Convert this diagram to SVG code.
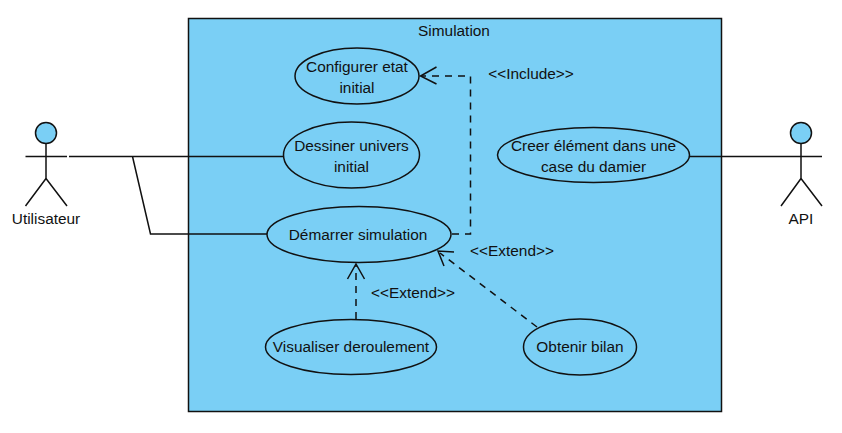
<svg xmlns="http://www.w3.org/2000/svg" width="842" height="433" viewBox="0 0 842 433">
<style>
text{font-family:"Liberation Sans",Arial,sans-serif;font-size:15.400px;fill:#111;text-anchor:middle}
.n{fill:#7acff5;stroke:#111;stroke-width:1.5}
.l{fill:none;stroke:#111;stroke-width:1.5}
.d{fill:none;stroke:#111;stroke-width:1.5;stroke-dasharray:7 6}
</style>
<rect width="842" height="433" fill="#fff"/>
<g id="simulation"><rect class="n" x="188.500" y="18.500" width="533" height="393"/><text x="454" y="36">Simulation</text></g>
<g id="connectors">
<path class="l" d="M69 156.500H285M132.500 156.500L150.500 234H267"/>
<path class="l" d="M689 156.500H781"/>
<path class="d" d="M452 234H470.500V76H421"/>
<path class="l" d="M436.500 67L420.500 76L436.500 84"/>
<path class="d" d="M356 319V265"/>
<path class="l" d="M347.500 279L356 264L364.500 279"/>
<path class="d" d="M537 327L440 253"/>
<path class="l" d="M444 266L438 251L454 252"/>
</g>
<g id="utilisateur"><circle class="n" cx="46" cy="133" r="10.500"/><path class="l" d="M25.500 156.500H67M46 144V178.500M46 178.500L25.500 206M46 178.500L67 206"/><text x="46" y="224">Utilisateur</text></g>
<g id="api"><circle class="n" cx="801" cy="133" r="10.500"/><path class="l" d="M781 156.500H822M801 144V178.500M801 178.500L781 206M801 178.500L822 206"/><text x="801" y="224">API</text></g>
<g id="configurer"><ellipse class="n" cx="357" cy="76" rx="62" ry="28"/><text x="357" y="72">Configurer etat</text><text x="357" y="93">initial</text></g>
<g id="dessiner"><ellipse class="n" cx="351.500" cy="155" rx="68" ry="33"/><text x="351.500" y="151">Dessiner univers</text><text x="351.500" y="172">initial</text></g>
<g id="demarrer"><ellipse class="n" cx="359" cy="234.500" rx="92" ry="28"/><text x="358" y="240">Démarrer simulation</text></g>
<g id="creer"><ellipse class="n" cx="593.500" cy="155" rx="96" ry="27.500"/><text x="593.500" y="151">Creer élément dans une</text><text x="593.500" y="172">case du damier</text></g>
<g id="visualiser"><ellipse class="n" cx="351" cy="347" rx="85.500" ry="27.500"/><text x="351" y="352">Visualiser deroulement</text></g>
<g id="obtenir"><ellipse class="n" cx="580" cy="347" rx="56.500" ry="28"/><text x="580" y="352">Obtenir bilan</text></g>
<text x="531" y="79">&lt;&lt;Include&gt;&gt;</text>
<text x="512" y="256">&lt;&lt;Extend&gt;&gt;</text>
<text x="413" y="298">&lt;&lt;Extend&gt;&gt;</text>
</svg>
